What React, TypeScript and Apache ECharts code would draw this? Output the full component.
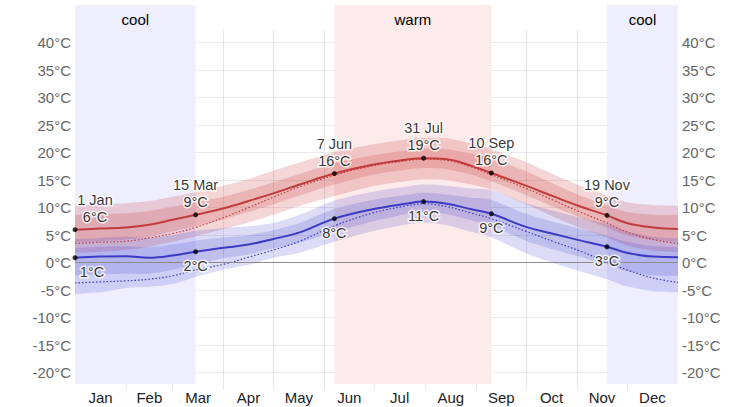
import React, { useEffect, useRef } from "react";
import * as echarts from "echarts";

// day of year (0 = 1 Jan)
const days = [0, 15, 31, 45, 59, 73, 90, 105, 120, 136, 157, 180, 200, 211, 225, 240, 252, 273, 290, 305, 322, 334, 350, 365];

// average daily high and its percentile bands (°C)
const highAvg = [6.0, 6.2, 6.4, 6.9, 7.8, 8.7, 9.9, 11.2, 12.6, 14.2, 16.2, 17.8, 18.7, 19.0, 18.8, 17.6, 16.3, 14.0, 12.0, 10.3, 8.6, 7.2, 6.4, 6.1];
const highPerceived = [3.5, 3.7, 3.9, 4.5, 5.3, 6.4, 8.2, 10.0, 11.9, 13.8, 15.9, 17.6, 18.5, 18.8, 18.6, 17.4, 16.0, 13.5, 11.3, 9.3, 7.2, 5.6, 4.2, 3.5];
const highP90 = [10.4, 10.6, 10.8, 11.2, 12.0, 12.8, 14.0, 15.2, 16.7, 18.2, 20.1, 21.5, 22.4, 22.7, 22.6, 21.6, 20.6, 18.3, 16.0, 14.1, 12.2, 11.0, 10.5, 10.4];
const highP75 = [8.7, 8.9, 9.0, 9.4, 10.2, 11.0, 12.0, 13.2, 14.6, 16.1, 18.1, 19.5, 20.4, 20.7, 20.6, 19.8, 18.9, 16.6, 14.3, 12.3, 10.5, 9.2, 8.7, 8.7];
const highP25 = [3.7, 3.9, 4.2, 4.7, 5.7, 6.6, 7.9, 9.2, 10.6, 12.2, 14.2, 16.0, 16.9, 17.2, 17.0, 16.0, 14.8, 12.3, 10.1, 8.3, 6.4, 5.0, 4.1, 3.8];
const highP10 = [1.8, 2.0, 2.3, 2.9, 3.8, 4.8, 6.1, 7.3, 8.7, 10.3, 12.1, 13.9, 14.8, 15.1, 15.0, 14.2, 13.3, 10.6, 8.3, 6.4, 4.6, 3.1, 2.2, 1.9];

// average daily low and its percentile bands (°C)
const lowAvg = [0.9, 1.1, 1.15, 0.9, 1.3, 2.0, 2.7, 3.3, 4.3, 5.5, 8.0, 9.7, 10.7, 11.1, 10.7, 9.7, 8.9, 6.5, 5.2, 4.1, 2.9, 1.8, 1.1, 1.0];
const lowPerceived = [-3.7, -3.5, -3.3, -3.0, -2.4, -1.3, -0.3, 1.0, 2.3, 3.9, 6.7, 9.0, 10.3, 10.7, 10.2, 9.0, 8.0, 5.7, 3.8, 2.2, 0.1, -1.3, -2.8, -3.6];
const lowP90 = [4.3, 4.5, 4.7, 4.5, 5.0, 5.8, 6.3, 6.6, 7.2, 8.7, 11.3, 12.9, 13.8, 14.2, 14.0, 13.5, 13.2, 10.8, 9.4, 8.2, 7.0, 5.7, 4.7, 4.4];
const lowP75 = [2.7, 2.9, 3.0, 2.8, 3.3, 4.0, 4.6, 5.0, 5.9, 7.2, 9.8, 11.4, 12.3, 12.7, 12.4, 11.8, 11.4, 8.9, 7.4, 6.2, 4.9, 3.8, 3.0, 2.9];
const lowP25 = [-2.3, -2.1, -2.0, -2.0, -1.3, -0.3, 0.8, 1.5, 2.6, 3.6, 5.6, 7.5, 8.8, 9.2, 8.8, 7.7, 6.7, 4.0, 2.4, 1.1, -0.3, -1.5, -2.3, -2.4];
const lowP10 = [-5.7, -5.4, -4.6, -4.4, -3.9, -2.6, -1.3, -0.4, 0.9, 1.8, 3.8, 5.7, 6.9, 7.3, 6.8, 5.6, 4.6, 1.7, -0.1, -1.5, -3.0, -4.3, -5.2, -5.4];

// annotated days
const annotDays = [0, 73, 157, 211, 252, 322];
const annotDates = ["1 Jan", "15 Mar", "7 Jun", "31 Jul", "10 Sep", "19 Nov"];
const annotHigh = [6.0, 8.7, 16.2, 19.0, 16.3, 8.6];
const annotLow = [0.9, 2.0, 8.0, 11.1, 8.9, 2.9];

// seasons
const seasonNames = ["cool", "warm", "cool"];
const seasonStart = [0, 157, 322];
const seasonEnd = [73, 252, 365];

// axes
const monthNames = ["Jan", "Feb", "Mar", "Apr", "May", "Jun", "Jul", "Aug", "Sep", "Oct", "Nov", "Dec"];
const monthMids = [15.5, 45, 74.5, 105, 135.5, 166, 196.5, 227.5, 258, 288.5, 319, 349.5];
const monthStarts = [31, 59, 90, 120, 151, 181, 212, 243, 273, 304, 334];
const yTicks = [-20, -15, -10, -5, 0, 5, 10, 15, 20, 25, 30, 35, 40];

const FONT = "'Liberation Sans', Arial, Helvetica, sans-serif";
const RED = "#c23b3b";
const BLUE = "#3b3bc4";

function pairs(vals: number[]) {
  return days.map((d, i) => [d, vals[i]]);
}

// Catmull-Rom spline through screen points, as SVG path commands (without initial M)
function splineCmds(pts: number[][]): string {
  let s = "";
  for (let i = 0; i < pts.length - 1; i++) {
    const p0 = pts[Math.max(0, i - 1)];
    const p1 = pts[i];
    const p2 = pts[i + 1];
    const p3 = pts[Math.min(pts.length - 1, i + 2)];
    const t = 0.8;
    const c1x = p1[0] + ((p2[0] - p0[0]) / 6) * t;
    const c1y = p1[1] + ((p2[1] - p0[1]) / 6) * t;
    const c2x = p2[0] - ((p3[0] - p1[0]) / 6) * t;
    const c2y = p2[1] - ((p3[1] - p1[1]) / 6) * t;
    s += ` C${c1x.toFixed(2)},${c1y.toFixed(2)} ${c2x.toFixed(2)},${c2y.toFixed(2)} ${p2[0].toFixed(2)},${p2[1].toFixed(2)}`;
  }
  return s;
}

function band(lo: number[], hi: number[], color: string) {
  return {
    type: "custom",
    coordinateSystem: "cartesian2d",
    xAxisIndex: 0,
    yAxisIndex: 0,
    data: [[0, 0]],
    silent: true,
    clip: true,
    z: 1,
    renderItem: (_params: any, api: any) => {
      const upper = days.map((d, i) => api.coord([d, hi[i]]));
      const lower = days.map((d, i) => api.coord([d, lo[i]])).reverse();
      const d =
        `M${upper[0][0].toFixed(2)},${upper[0][1].toFixed(2)}` +
        splineCmds(upper) +
        ` L${lower[0][0].toFixed(2)},${lower[0][1].toFixed(2)}` +
        splineCmds(lower) +
        " Z";
      return {
        type: "path",
        shape: { pathData: d },
        style: { fill: color, stroke: "none" },
      };
    },
  };
}

export default function App() {
  const ref = useRef<HTMLDivElement>(null);

  useEffect(() => {
    document.body.style.margin = "0";
    if (!ref.current) return;
    const chart = echarts.init(ref.current, undefined, { renderer: "svg" });

    const labelBase = {
      fontFamily: FONT,
      fontSize: 14.5,
      color: "#000",
      textBorderColor: "#fff",
      textBorderWidth: 3,
      lineHeight: 17,
    };

    const yLabel = {
      customValues: yTicks,
      margin: 4,
      color: "#666",
      fontSize: 15,
      fontFamily: FONT,
      formatter: (v: number) => `${v}°C`,
    };

    const option: any = {
      animation: false,
      textStyle: { fontFamily: FONT },
      grid: [
        { left: 75, right: 75, top: 30, bottom: 17, containLabel: false, outerBoundsMode: "none" },
        { left: 75, right: 75, top: 5, bottom: 23, containLabel: false, outerBoundsMode: "none" },
      ],
      xAxis: [
        {
          type: "value",
          gridIndex: 0,
          min: 0,
          max: 365,
          axisLine: { show: false },
          axisTick: { show: false, customValues: monthStarts },
          splitLine: { show: true, lineStyle: { color: "rgba(0,0,0,0.1)", width: 1 } },
          axisLabel: {
            customValues: monthMids,
            margin: 0,
            color: "#222",
            fontSize: 15,
            fontFamily: FONT,
            formatter: (v: number) => {
              let best = 0;
              for (let i = 0; i < monthMids.length; i++) {
                if (Math.abs(monthMids[i] - v) < Math.abs(monthMids[best] - v)) best = i;
              }
              return monthNames[best];
            },
          },
        },
        { type: "value", gridIndex: 1, min: 0, max: 365, show: false },
      ],
      yAxis: [
        {
          type: "value",
          gridIndex: 0,
          min: -23.15,
          max: 42.3,
          position: "left",
          axisLine: { show: false },
          axisTick: { show: false, customValues: yTicks },
          splitLine: { show: true, lineStyle: { color: "rgba(0,0,0,0.08)", width: 1 } },
          axisLabel: yLabel,
        },
        {
          type: "value",
          gridIndex: 0,
          min: -23.15,
          max: 42.3,
          position: "right",
          axisLine: { show: false },
          axisTick: { show: false, customValues: yTicks },
          splitLine: { show: false },
          axisLabel: yLabel,
        },
        { type: "value", gridIndex: 1, min: 0, max: 1, show: false },
      ],
      series: [
        {
          type: "line",
          xAxisIndex: 1,
          yAxisIndex: 2,
          data: [[0, 0]],
          symbol: "none",
          lineStyle: { opacity: 0 },
          silent: true,
          z: -1,
          markArea: {
            silent: true,
            data: seasonNames.map((name, i) => [
              {
                name,
                xAxis: seasonStart[i],
                itemStyle: { color: name === "warm" ? "#fdeaea" : "#eeeeff" },
              },
              { xAxis: seasonEnd[i] },
            ]),
            label: {
              show: true,
              position: "insideTop",
              distance: 7,
              color: "#000",
              fontSize: 15,
              fontFamily: FONT,
            },
          },
        },
        band(highP10, highP90, "rgba(200,50,50,0.2)"),
        band(highP25, highP75, "rgba(200,50,50,0.2)"),
        band(lowP10, lowP90, "rgba(50,50,200,0.17)"),
        band(lowP25, lowP75, "rgba(50,50,200,0.17)"),
        {
          type: "line",
          data: pairs(highPerceived),
          symbol: "none",
          smooth: 0.4,
          lineStyle: { color: RED, width: 1.2, type: [1.5, 2] },
          silent: true,
          z: 3,
        },
        {
          type: "line",
          data: pairs(lowPerceived),
          symbol: "none",
          smooth: 0.4,
          lineStyle: { color: BLUE, width: 1.2, type: [1.5, 2] },
          silent: true,
          z: 3,
        },
        {
          type: "line",
          data: pairs(highAvg),
          symbol: "none",
          smooth: 0.4,
          lineStyle: { color: RED, width: 2 },
          silent: true,
          z: 4,
          markLine: {
            silent: true,
            symbol: ["none", "none"],
            label: { show: false },
            lineStyle: { color: "#8c8c8c", width: 1, type: "solid" },
            data: [{ yAxis: 0 }],
          },
        },
        {
          type: "line",
          data: pairs(lowAvg),
          symbol: "none",
          smooth: 0.4,
          lineStyle: { color: BLUE, width: 2 },
          silent: true,
          z: 4,
        },
        {
          type: "scatter",
          symbolSize: 5,
          itemStyle: { color: "#000" },
          silent: true,
          z: 6,
          data: annotDays.map((d, i) => ({
            value: [d, annotHigh[i]],
            label: {
              show: true,
              position: "top",
              distance: 2,
              offset: [i === 0 ? 20 : 0, 0],
              formatter: `${annotDates[i]}\n${Math.round(annotHigh[i])}°C`,
              ...labelBase,
            },
          })),
        },
        {
          type: "scatter",
          symbolSize: 5,
          itemStyle: { color: "#000" },
          silent: true,
          z: 6,
          data: annotDays.map((d, i) => ({
            value: [d, annotLow[i]],
            label: {
              show: true,
              position: "bottom",
              distance: 3,
              offset: [i === 0 ? 17 : 0, 0],
              formatter: `${Math.round(annotLow[i])}°C`,
              ...labelBase,
            },
          })),
        },
      ],
    };

    chart.setOption(option);
    return () => chart.dispose();
  }, []);

  return <div ref={ref} style={{ width: 753, height: 407 }} />;
}
